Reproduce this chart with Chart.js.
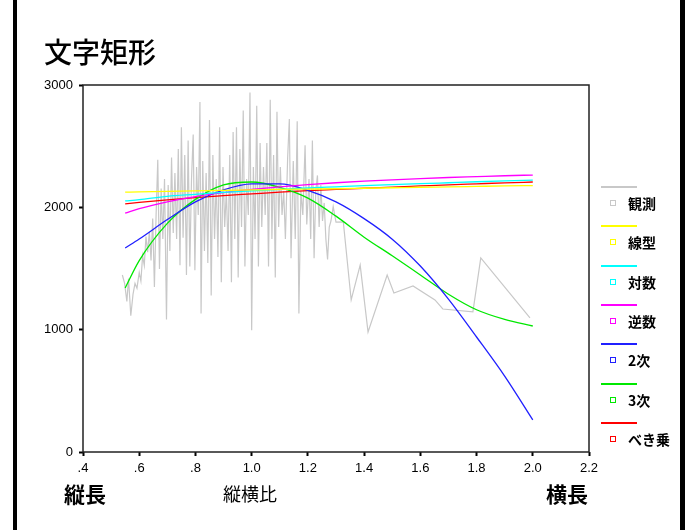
<!DOCTYPE html>
<html lang="ja">
<head>
<meta charset="utf-8">
<title>文字矩形</title>
<script src="https://cdn.jsdelivr.net/npm/chart.js@4.4.1/dist/chart.umd.min.js"></script>
<style>
  html, body { margin: 0; padding: 0; background: #fff; }
  #wrap { position: relative; width: 685px; height: 530px; overflow: hidden; font-family: "Noto Sans CJK JP", sans-serif; }
  #chart { position: absolute; left: 0; top: 0; }
  .edge { position: absolute; top: 0; height: 530px; background: #000; }
  .txt { position: absolute; white-space: nowrap; color: #000; line-height: 1; }
  .lg-line { position: absolute; left: 601px; width: 36px; height: 2px; }
  .lg-box { position: absolute; left: 610px; width: 4px; height: 4px; border: 1px solid; }
  .lg-label { position: absolute; left: 628px; font-size: 14px; font-weight: bold; line-height: 1; }
</style>
</head>
<body>
<div id="wrap">
  <canvas id="chart" width="685" height="530"></canvas>
  <div class="edge" style="left:13px;width:4px"></div>
  <div class="edge" style="left:680px;width:5px"></div>
  <div class="txt" style="left:44px;top:37px;font-size:28px;font-weight:500">文字矩形</div>
  <div class="txt" style="left:64px;top:483px;font-size:21px;font-weight:bold">縦長</div>
  <div class="txt" style="left:223px;top:484px;font-size:18px">縦横比</div>
  <div class="txt" style="left:546px;top:483px;font-size:21px;font-weight:bold">横長</div>
  <div id="legend"></div>
</div>
<script>
const obsX = [0.540, 0.548, 0.556, 0.562, 0.570, 0.578, 0.585, 0.592, 0.600, 0.606,
  0.612, 0.618, 0.624, 0.630, 0.636, 0.642, 0.648, 0.654, 0.660, 0.666,
  0.672, 0.678, 0.684, 0.690, 0.697, 0.703, 0.709, 0.715, 0.721, 0.727,
  0.733, 0.739, 0.745, 0.750, 0.756, 0.762, 0.768, 0.774, 0.780, 0.786,
  0.792, 0.798, 0.804, 0.810, 0.816, 0.820, 0.826, 0.832, 0.838, 0.844,
  0.850, 0.856, 0.862, 0.868, 0.874, 0.880, 0.886, 0.892, 0.898, 0.904,
  0.910, 0.916, 0.922, 0.928, 0.934, 0.940, 0.946, 0.952, 0.958, 0.964,
  0.970, 0.976, 0.982, 0.988, 0.994, 1.000, 1.006, 1.012, 1.018, 1.024,
  1.030, 1.036, 1.042, 1.048, 1.054, 1.060, 1.066, 1.072, 1.078, 1.084,
  1.090, 1.096, 1.102, 1.108, 1.114, 1.120, 1.128, 1.134, 1.140, 1.148,
  1.155, 1.162, 1.168, 1.175, 1.182, 1.190, 1.196, 1.204, 1.210, 1.216,
  1.222, 1.228, 1.234, 1.240, 1.246, 1.252, 1.258, 1.264, 1.270, 1.276,
  1.282, 1.290, 1.300, 1.326, 1.354, 1.386, 1.414, 1.482, 1.506, 1.574,
  1.652, 1.680, 1.787, 1.815, 1.990];
const obsY = [1447, 1378, 1231, 1418, 1114, 1290, 1378, 1339, 1467, 1398,
  1604, 1526, 1761, 1633, 1800, 1565, 1908, 1349, 1938, 2389,
  1496, 2153, 1741, 2232, 1084, 2183, 1643, 2408, 1790, 2281,
  1741, 2477, 1526, 2654, 1751, 2428, 1447, 2546, 1516, 2232,
  2595, 1486, 2330, 1938, 2860, 1133, 2379, 1643, 2281, 1545,
  2713, 1280, 2428, 1741, 2232, 1594, 2654, 1388, 2330, 1839,
  2134, 1643, 2428, 1388, 2615, 1741, 2654, 1427, 2477, 1839,
  2791, 1516, 2232, 1938, 2938, 996, 2330, 1741, 2830, 1516,
  2526, 1839, 2330, 1938, 2526, 1516, 2879, 1741, 2428, 1427,
  2781, 1839, 2330, 1938, 2134, 1741, 2408, 2722, 1584, 2379,
  1741, 2703, 1133, 2134, 1938, 2507, 1859, 2232, 1741, 2546,
  1584, 2134, 2261, 1839, 2183, 1888, 2036, 1741, 1574, 1839,
  1888, 2006, 1879, 1881, 1243, 1528, 981, 1447, 1300, 1357,
  1243, 1169, 1145, 1586, 1096];

// fitted curves, read at these x positions
const fitX = [0.55, 0.6, 0.7, 0.8, 0.9, 1.0, 1.1, 1.2, 1.3, 1.4, 1.5, 1.6, 1.7, 1.8, 1.9, 2.0];
const linearY = [2124, 2126, 2130, 2134, 2138, 2142, 2146, 2149, 2152, 2156, 2160, 2164, 2167, 2171, 2175, 2178];
const logY = [2052, 2063, 2090, 2106, 2122, 2134, 2146, 2158, 2168, 2178, 2186, 2193, 2201, 2209, 2216, 2222];
const inverseY = [1952, 1989, 2045, 2088, 2120, 2146, 2168, 2186, 2201, 2214, 2225, 2235, 2244, 2251, 2258, 2264];
const quadY = [1668, 1741, 1900, 2045, 2143, 2192, 2192, 2139, 2045, 1908, 1740, 1520, 1250, 940, 620, 262];
const cubicY = [1341, 1565, 1869, 2065, 2183, 2207, 2163, 2075, 1928, 1756, 1604, 1447, 1290, 1163, 1084, 1030];
const powerY = [2029, 2040, 2061, 2080, 2096, 2110, 2124, 2136, 2146, 2156, 2166, 2175, 2184, 2192, 2200, 2207];

const seriesLabels = ['観測', '線型', '対数', '逆数', '2次', '3次', 'べき乗'];
const seriesColors = ['#c8c8c8', '#ffff00', '#00ffff', '#ff00ff', '#2020ff', '#00e800', '#ff0000'];

const xTicks = [0.4, 0.6, 0.8, 1.0, 1.2, 1.4, 1.6, 1.8, 2.0, 2.2];
const yTicks = [0, 1000, 2000, 3000];

function pairs(xs, ys) {
  return xs.map((x, i) => ({ x: x, y: ys[i] }));
}

const fitSets = [linearY, logY, inverseY, quadY, cubicY, powerY];

const datasets = [{
  label: seriesLabels[0],
  data: pairs(obsX, obsY),
  borderColor: seriesColors[0],
  borderWidth: 1.2,
  order: 1
}].concat(fitSets.map((ys, i) => ({
  label: seriesLabels[i + 1],
  data: pairs(fitX, ys),
  borderColor: seriesColors[i + 1],
  borderWidth: 1.3,
  cubicInterpolationMode: 'monotone',
  order: 0
})));

// plot frame (top and right sides too)
const frame = {
  id: 'frame',
  afterDraw(chart) {
    const { ctx, chartArea: a } = chart;
    ctx.save();
    ctx.strokeStyle = '#222';
    ctx.lineWidth = 1.5;
    ctx.strokeRect(a.left, a.top, a.right - a.left, a.bottom - a.top);
    ctx.restore();
  }
};

new Chart(document.getElementById('chart').getContext('2d'), {
  type: 'scatter',
  data: { datasets: datasets },
  options: {
    responsive: false,
    animation: false,
    showLine: true,
    elements: { point: { radius: 0 } },
    layout: { padding: { top: 85, right: 96, left: 0, bottom: 0 } },
    plugins: { legend: { display: false }, tooltip: { enabled: false } },
    scales: {
      x: {
        type: 'linear',
        min: 0.4,
        max: 2.2,
        afterFit(scale) { scale.height = 78; },
        afterBuildTicks(scale) { scale.ticks = xTicks.map(v => ({ value: v })); },
        border: { display: false },
        grid: { drawOnChartArea: false, tickLength: 4, tickWidth: 2, tickColor: '#000' },
        ticks: {
          padding: 5,
          color: '#000',
          maxRotation: 0,
          font: { family: 'Liberation Sans', size: 13 },
          callback: v => v.toFixed(1).replace(/^0/, '')
        }
      },
      y: {
        min: 0,
        max: 3000,
        afterFit(scale) { scale.width = 83; },
        afterBuildTicks(scale) { scale.ticks = yTicks.map(v => ({ value: v })); },
        border: { display: false },
        grid: { drawOnChartArea: false, tickLength: 4, tickWidth: 2, tickColor: '#000' },
        ticks: {
          padding: 6,
          color: '#000',
          font: { family: 'Liberation Sans', size: 13 },
          callback: v => String(v)
        }
      }
    }
  },
  plugins: [frame]
});

// legend: line sample above, small square + label below
const legend = document.getElementById('legend');
seriesLabels.forEach((label, i) => {
  const top = Math.round(186 + i * 39.3);
  const line = document.createElement('div');
  line.className = 'lg-line';
  line.style.top = top + 'px';
  line.style.background = seriesColors[i];
  const box = document.createElement('div');
  box.className = 'lg-box';
  box.style.top = (top + 14) + 'px';
  box.style.borderColor = seriesColors[i];
  const text = document.createElement('div');
  text.className = 'lg-label';
  text.style.top = (top + 10) + 'px';
  text.textContent = label;
  legend.append(line, box, text);
});
</script>
</body>
</html>
